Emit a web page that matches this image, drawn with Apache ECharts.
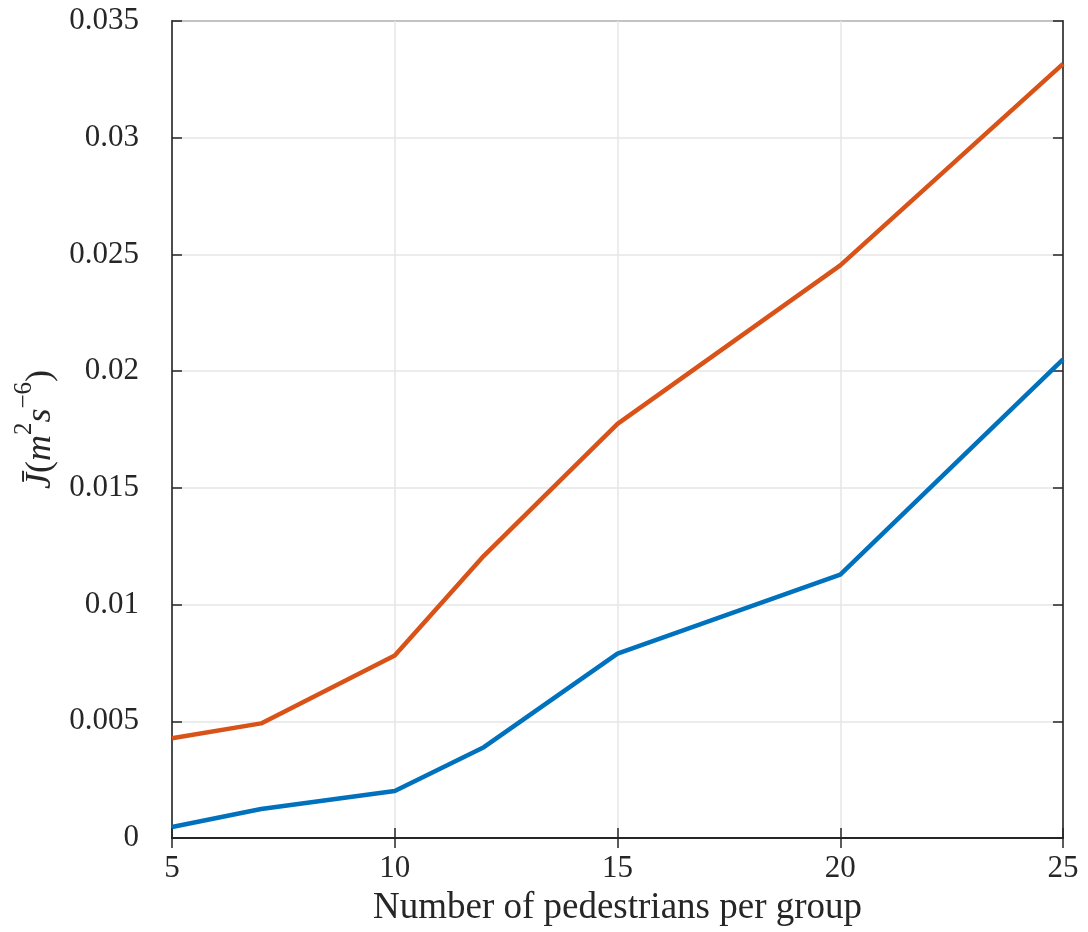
<!DOCTYPE html>
<html><head><meta charset="utf-8">
<script src="https://cdn.jsdelivr.net/npm/echarts@6/dist/echarts.min.js"></script>
<style>html,body{margin:0;padding:0;background:#fff}#c{width:1088px;height:932px}</style>
</head><body><div id="c"></div>
<script>
const groupSizes = [5, 7, 10, 12, 15, 20, 25];
const seriesUpper = [0.00427, 0.00491, 0.00782, 0.01209, 0.01774, 0.02453, 0.03316];
const seriesLower = [0.00047, 0.00124, 0.00201, 0.00389, 0.0079, 0.01128, 0.0205];
const xTicks = [5, 10, 15, 20, 25];
const yTicks = [0, 0.005, 0.01, 0.015, 0.02, 0.025, 0.03, 0.035];

const font = 'Liberation Serif';
const axisColor = '#262626';
const chart = echarts.init(document.getElementById('c'));
const pair = a => groupSizes.map((x, i) => [x, a[i]]);
const fmtY = v => String(+v.toFixed(3));

chart.setOption({
  animation: false,
  grid: { left: 172, right: 25, top: 21, bottom: 92, show: true, borderColor: axisColor, borderWidth: 1.5 },
  xAxis: [{
    type: 'value', min: xTicks[0], max: xTicks[xTicks.length - 1], interval: 5,
    name: 'Number of pedestrians per group', nameLocation: 'middle', nameGap: 52,
    nameTextStyle: { fontFamily: font, fontSize: 37, color: axisColor },
    axisLine: { show: true, lineStyle: { color: axisColor, width: 1.5 } },
    axisTick: { show: true, inside: true, length: 10, lineStyle: { color: axisColor, width: 1.5 } },
    axisLabel: { fontFamily: font, fontSize: 31, color: axisColor, margin: 15 },
    splitLine: { show: true, lineStyle: { color: '#e6e6e6', width: 1.5 } }
  }, {
    type: 'value', position: 'top', min: xTicks[0], max: xTicks[xTicks.length - 1], interval: 5,
    axisLine: { show: true, lineStyle: { color: axisColor, width: 2 } },
    axisTick: { show: true, inside: true, length: 10, lineStyle: { color: axisColor, width: 1.5 } },
    axisLabel: { show: false }, splitLine: { show: false }
  }],
  yAxis: [{
    type: 'value', min: yTicks[0], max: yTicks[yTicks.length - 1], interval: 0.005,
    name: '{it|J̄}{n|(}{it|m}{sup|2}{it|s}{sup|−6}{n|)}', nameLocation: 'middle', nameGap: 112,
    nameTextStyle: {
      fontFamily: font, fontSize: 36, color: axisColor,
      rich: {
        it: { fontFamily: font, fontSize: 36, fontStyle: 'italic', color: axisColor, lineHeight: 46, verticalAlign: 'bottom' },
        n: { fontFamily: font, fontSize: 36, color: axisColor, lineHeight: 46, verticalAlign: 'bottom' },
        sup: { fontFamily: font, fontSize: 25, color: axisColor, lineHeight: 46, verticalAlign: 'top', padding: [0, 0, 16, 0] }
      }
    },
    axisLine: { show: true, lineStyle: { color: axisColor, width: 1.5 } },
    axisTick: { show: true, inside: true, length: 10, lineStyle: { color: axisColor, width: 1.5 } },
    axisLabel: { fontFamily: font, fontSize: 31, color: axisColor, margin: 33, formatter: fmtY },
    splitLine: { show: true, lineStyle: { color: '#e6e6e6', width: 1.5 } }
  }, {
    type: 'value', position: 'right', min: yTicks[0], max: yTicks[yTicks.length - 1], interval: 0.005,
    axisLine: { show: true, lineStyle: { color: axisColor, width: 1.5 } },
    axisTick: { show: true, inside: true, length: 10, lineStyle: { color: axisColor, width: 1.5 } },
    axisLabel: { show: false }, splitLine: { show: false }
  }],
  series: [
    { type: 'line', data: pair(seriesUpper), showSymbol: false, lineStyle: { color: '#D95319', width: 4.5 }, itemStyle: { color: '#D95319' } },
    { type: 'line', data: pair(seriesLower), showSymbol: false, lineStyle: { color: '#0072BD', width: 4.5 }, itemStyle: { color: '#0072BD' } }
  ]
});
</script></body></html>
